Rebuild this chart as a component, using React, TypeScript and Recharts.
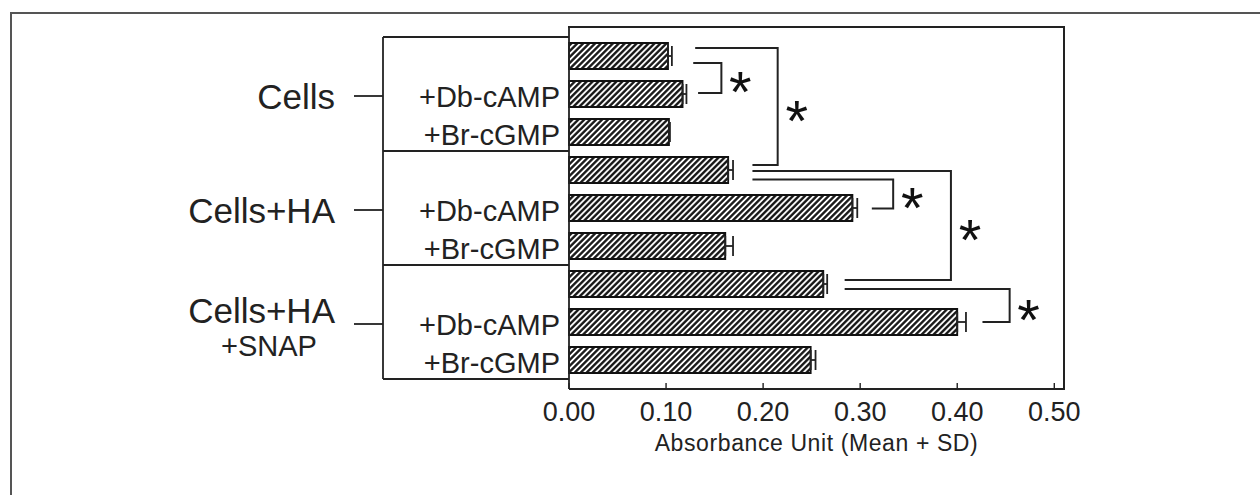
import React from "react";
import { BarChart, Bar, XAxis, YAxis, ErrorBar, ReferenceLine } from "recharts";

document.body.style.margin = "0";

// nine conditions, three per group
const conditions = [
  "Cells",
  "Cells +Db-cAMP",
  "Cells +Br-cGMP",
  "Cells+HA",
  "Cells+HA +Db-cAMP",
  "Cells+HA +Br-cGMP",
  "Cells+HA+SNAP",
  "Cells+HA+SNAP +Db-cAMP",
  "Cells+HA+SNAP +Br-cGMP",
];
const treatmentLabels = ["", "+Db-cAMP", "+Br-cGMP", "", "+Db-cAMP", "+Br-cGMP", "", "+Db-cAMP", "+Br-cGMP"];
const groupLabels = [["Cells"], ["Cells+HA"], ["Cells+HA", "+SNAP"]];

const means = [0.102, 0.117, 0.103, 0.164, 0.292, 0.161, 0.262, 0.4, 0.249];
const sds = [0.004, 0.004, 0.001, 0.005, 0.005, 0.008, 0.004, 0.009, 0.005];

const xTicks = [0, 0.1, 0.2, 0.3, 0.4, 0.5];
const minorTicks = Array.from({ length: 52 }, (_, i) => i / 100);

// significant pairs (index of upper bar, index of lower bar)
const sigPairs: Array<[number, number]> = [
  [0, 1],
  [0, 3],
  [3, 4],
  [3, 6],
  [6, 7],
];

// where each bracket sits: x in axis units, dy in px from bar centre
const bracketLayout = [
  { topFrom: 0.128, bottomFrom: 0.133, at: 0.157, topDy: 7, bottomDy: -1 },
  { topFrom: 0.13, bottomFrom: 0.189, at: 0.215, topDy: -8, bottomDy: -5 },
  { topFrom: 0.189, bottomFrom: 0.312, at: 0.334, topDy: 9.5, bottomDy: 0.5 },
  { topFrom: 0.189, bottomFrom: 0.284, at: 0.3935, topDy: 1, bottomDy: -4 },
  { topFrom: 0.284, bottomFrom: 0.426, at: 0.454, topDy: 5, bottomDy: 0 },
];

const data = conditions.map((name, i) => ({
  name,
  mean: means[i],
  err: [0, sds[i]],
}));

const INK = "#222";
const FONT = '"Liberation Sans", Arial, Helvetica, sans-serif';
const BOX_LEFT = 383;
const PLOT_LEFT = 569;
const PLOT_TOP = 27;
const PLOT_RIGHT = 1064;
const PLOT_BOTTOM = 389;

function ConditionTick(props: any) {
  const { y, index, payload } = props;
  const half = payload?.offset || 19;
  const inGroup = index % 3;
  const group = Math.floor(index / 3);
  const labels = groupLabels[group];
  return (
    <g>
      {treatmentLabels[index] && (
        <text x={560} y={y + 3} textAnchor="end" dominantBaseline="central" fontSize={29} fill={INK}>
          {treatmentLabels[index]}
        </text>
      )}
      {inGroup === 0 && (
        <line x1={BOX_LEFT} x2={PLOT_LEFT} y1={y - half} y2={y - half} stroke={INK} strokeWidth={1.8} />
      )}
      {index === conditions.length - 1 && (
        <line x1={BOX_LEFT} x2={PLOT_LEFT} y1={y + half} y2={y + half} stroke={INK} strokeWidth={1.8} />
      )}
      {inGroup === 1 && (
        <g>
          <line x1={BOX_LEFT} x2={BOX_LEFT} y1={y - 3 * half} y2={y + 3 * half} stroke={INK} strokeWidth={1.8} />
          <line x1={354} x2={BOX_LEFT} y1={y + 2} y2={y + 2} stroke={INK} strokeWidth={1.8} />
          {labels.length === 1 ? (
            <text x={335} y={y + 2} textAnchor="end" dominantBaseline="central" fontSize={35} fill={INK}>
              {labels[0]}
            </text>
          ) : (
            <g>
              <text x={335} y={y - 12} textAnchor="end" dominantBaseline="central" fontSize={35} fill={INK}>
                {labels[0]}
              </text>
              <text x={269} y={y + 24} textAnchor="middle" dominantBaseline="central" fontSize={29} fill={INK}>
                {labels[1]}
              </text>
            </g>
          )}
        </g>
      )}
    </g>
  );
}

function bracketShape(b: (typeof bracketLayout)[number]) {
  return (props: any) => {
    const { x1, y1, x2, y2 } = props;
    const k = (x2 - x1) / (b.at - b.topFrom);
    const bx = x1 + (b.bottomFrom - b.topFrom) * k;
    const yt = y1 + b.topDy;
    const yb = y2 + b.bottomDy;
    return (
      <g>
        <path d={`M${x1},${yt}H${x2}V${yb}H${bx}`} fill="none" stroke={INK} strokeWidth={2} />
        <text x={x2 + 19} y={(yt + yb) / 2 + 2 + 32} textAnchor="middle" fontSize={58} fill="#111">
          *
        </text>
      </g>
    );
  };
}

export default function App() {
  return (
    <div style={{ position: "relative", width: 1260, height: 495, background: "#fff", fontFamily: FONT }}>
      <svg width={0} height={0} style={{ position: "absolute" }}>
        <defs>
          <pattern id="hatch" width="4.2" height="4.2" patternUnits="userSpaceOnUse" patternTransform="rotate(45)">
            <rect width="4.2" height="4.2" fill="#fff" />
            <line x1="2.1" y1="0" x2="2.1" y2="4.2" stroke="#111" strokeWidth="2.3" />
          </pattern>
        </defs>
      </svg>
      {/* outer figure frame */}
      <div
        style={{
          position: "absolute",
          left: 10,
          top: 12,
          right: -4,
          bottom: -4,
          borderTop: "2px solid #555",
          borderLeft: "2px solid #555",
        }}
      />
      <div style={{ position: "absolute", left: 0, top: 0 }}>
        <BarChart
          width={1260}
          height={495}
          data={data}
          layout="vertical"
          margin={{ top: PLOT_TOP, right: 1260 - PLOT_RIGHT, bottom: 0, left: 0 }}
          barSize={26}
          style={{ fontFamily: FONT }}
        >
          <XAxis
            xAxisId="minor"
            type="number"
            domain={[0, 0.51]}
            ticks={minorTicks}
            interval={0}
            height={0}
            tick={false}
            tickSize={-3}
            tickLine={{ stroke: INK, strokeWidth: 1.2 }}
            axisLine={false}
          />
          <XAxis
            type="number"
            domain={[0, 0.51]}
            ticks={xTicks}
            interval={0}
            height={495 - PLOT_BOTTOM}
            tickSize={-6}
            tickMargin={19}
            tickFormatter={(v: number) => v.toFixed(2)}
            tick={{ fontSize: 27, fill: INK }}
            tickLine={{ stroke: INK, strokeWidth: 1.4 }}
            axisLine={{ stroke: INK, strokeWidth: 1.8 }}
            label={{
              value: "Absorbance Unit (Mean + SD)",
              position: "insideBottom",
              offset: 44,
              fontSize: 23,
              fill: INK,
              letterSpacing: 0.6,
            }}
          />
          <YAxis
            type="category"
            dataKey="name"
            width={PLOT_LEFT}
            interval={0}
            padding={{ top: 10, bottom: 10 }}
            tick={<ConditionTick />}
            tickLine={false}
            axisLine={{ stroke: INK, strokeWidth: 1.8 }}
          />
          <Bar dataKey="mean" fill="url(#hatch)" stroke="#111" strokeWidth={1.8} isAnimationActive={false}>
            <ErrorBar dataKey="err" direction="x" width={10} stroke={INK} strokeWidth={1.8} />
          </Bar>
          {sigPairs.map(([a, b], i) => (
            <ReferenceLine
              key={i}
              ifOverflow="visible"
              segment={[
                { x: bracketLayout[i].topFrom, y: conditions[a] },
                { x: bracketLayout[i].at, y: conditions[b] },
              ]}
              shape={bracketShape(bracketLayout[i])}
            />
          ))}
        </BarChart>
      </div>
      {/* top and right edges of the plot frame */}
      <div
        style={{
          position: "absolute",
          left: PLOT_LEFT - 1,
          top: PLOT_TOP - 1,
          width: PLOT_RIGHT - PLOT_LEFT,
          height: PLOT_BOTTOM - PLOT_TOP,
          borderTop: `2px solid ${INK}`,
          borderRight: `2px solid ${INK}`,
          pointerEvents: "none",
        }}
      />
    </div>
  );
}
